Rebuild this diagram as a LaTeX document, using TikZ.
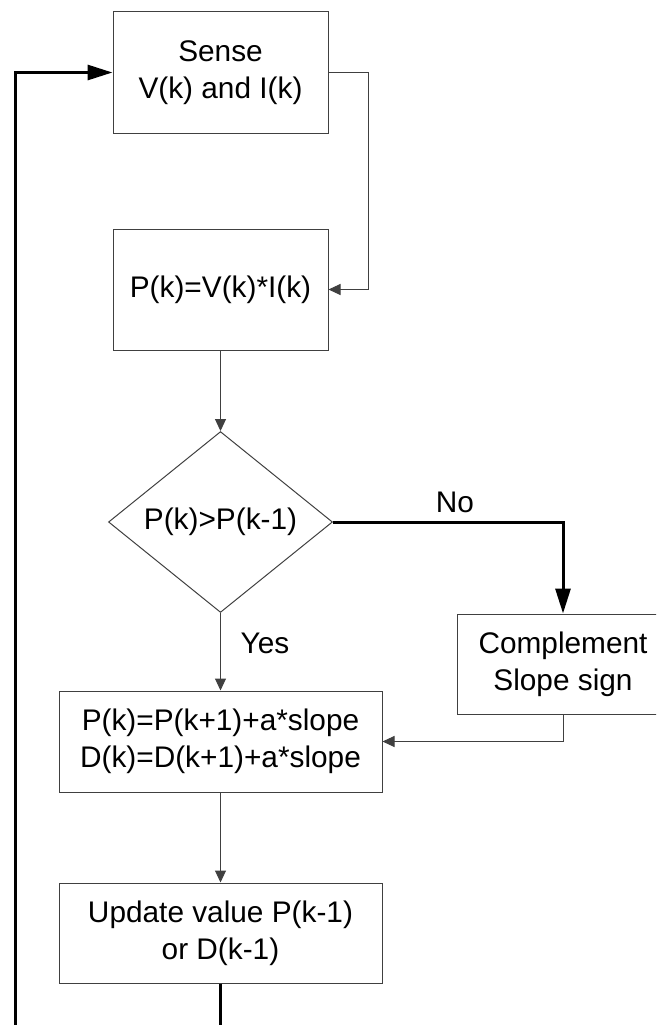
\documentclass[tikz,border=0pt]{standalone}
\usepackage{fontspec}
\setmainfont{Liberation Sans}
\usetikzlibrary{arrows.meta,shapes.geometric}
\begin{document}
\begin{tikzpicture}[x=1pt,y=-1pt,
  box/.style={draw=black!75,line width=1pt,rectangle,inner sep=0pt,align=center,
    font=\fontsize{29.8}{36.7}\selectfont},
  thin/.style={draw=black!75,line width=1pt,-{Triangle[length=12pt,width=11pt]}},
  thick/.style={draw=black,line width=3pt,-{Triangle[length=25pt,width=15pt]}},
  lbl/.style={font=\fontsize{29.8}{36.7}\selectfont,inner sep=0pt}]
\useasboundingbox (0,0) rectangle (656,1025);
\clip (0,0) rectangle (656,1025);
\node[box,minimum width=215pt,minimum height=121pt] (sense) at (220.5,72.5) {Sense\\V(k) and I(k)};
\node[box,minimum width=215pt,minimum height=121pt] (pk) at (220.5,289.5) {P(k)=V(k)*I(k)};
\node[box,shape=diamond,minimum width=224pt,minimum height=167pt] (dia) at (220.5,522) {P(k)>P(k-1)};
\node[box,minimum width=212pt,minimum height=100pt] (comp) at (563,664) {Complement\\Slope sign};
\node[box,minimum width=323pt,minimum height=101pt] (upd1) at (220.5,741.5) {P(k)=P(k+1)+a*slope\\D(k)=D(k+1)+a*slope};
\node[box,minimum width=323pt,minimum height=100pt] (upd2) at (220.5,933) {Update value P(k-1)\\or D(k-1)};
\node[lbl] (no) at (455,502) {No};
\node[lbl] (yes) at (265,643) {Yes};
\coordinate (c1) at (368,72.5);
\coordinate (b1) at (220.5,1045);
\coordinate (b2) at (15.5,1045);
\draw[thin] (sense.east) -- (c1) |- (pk.east);
\draw[thin] (pk.south) -- (dia.north);
\draw[thick] (dia.east) -| (comp.north);
\draw[thin] (dia.south) -- (upd1.north);
\draw[thin] (comp.south) |- (upd1.east);
\draw[thin] (upd1.south) -- (upd2.north);
\draw[thick] (upd2.south) -- (b1) -- (b2) |- (sense.west);
\end{tikzpicture}
\end{document}
